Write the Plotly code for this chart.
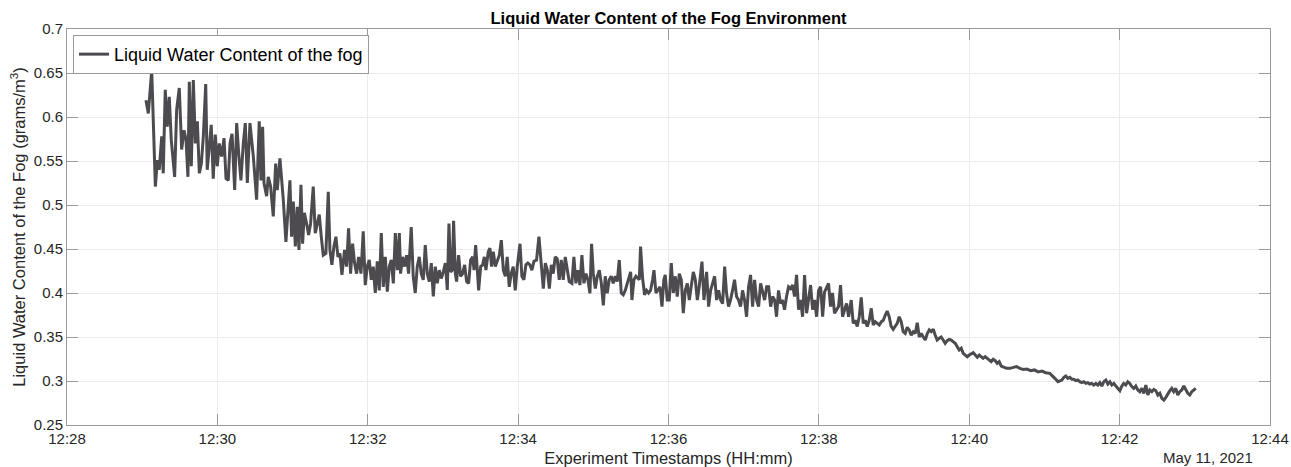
import pandas as pd
import plotly.graph_objects as go

# seconds after 12:28:00 on 11 May 2021
t_sec = [
    63.0, 64.9, 67.6, 68.9, 70.5, 72.1, 73.6, 75.6, 76.8, 78.4, 80.0, 81.6, 83.2, 85.9, 87.5, 89.6,
    91.5, 93.4, 95.0, 96.5, 97.6, 99.2, 100.8, 102.4, 104.0, 105.6, 107.2, 108.8, 110.7, 111.9, 113.5,
    115.1, 116.7, 118.3, 119.9, 121.5, 123.4, 125.3, 126.9, 128.7, 130.1, 131.7, 133.8, 135.4, 137.0,
    138.8, 140.7, 142.3, 143.9,
    146.0, 148.7, 151.3, 153.4, 154.8, 156.1, 157.2, 159.3, 160.6, 162.5, 164.6, 166.5, 167.8, 169.9,
    171.5, 172.6, 174.7, 176.3, 177.9, 179.2, 180.6, 182.2, 183.8, 185.1, 186.7, 188.0, 189.4, 191.2,
    192.8, 194.4, 196.5, 198.1, 199.7, 201.3, 202.9, 204.5, 206.6, 208.5, 209.8, 211.4, 213.0, 214.6,
    216.2, 217.8, 219.4, 221.5, 223.1, 224.7, 226.3, 227.9, 229.5, 231.1, 232.7, 234.6, 236.4, 238.0,
    239.6, 241.2, 242.8, 244.4, 246.0, 247.6, 249.2, 250.8, 252.4, 254.0, 255.6, 257.2, 258.8, 260.4,
    262.0, 263.6, 265.2, 266.2, 267.8, 269.4, 271.0, 272.6, 274.7, 276.3, 277.9, 279.5, 281.1, 282.7,
    284.3, 285.9, 287.5, 289.1, 290.7, 292.3, 293.9, 295.5, 297.1, 298.7, 300.3, 301.9, 303.5, 304.8,
    306.1, 307.5, 308.5, 309.9, 310.9, 312.5, 314.1, 315.7, 317.3, 318.9, 320.5, 322.1, 323.7, 324.8,
    326.1, 327.4, 328.5, 330.1, 331.7, 333.0, 334.3, 336.2, 337.5, 338.8, 340.2, 341.8, 343.4, 345.0,
    346.6, 348.2, 349.8, 351.3, 352.9, 354.5, 356.1, 357.7, 359.3, 361.5, 363.0, 364.6, 366.2, 367.8,
    369.4, 371.0, 372.6, 374.7, 376.6, 378.2, 380.1, 381.7, 383.3, 384.9, 386.5, 388.0, 389.6, 391.2,
    392.8, 394.4, 396.0, 397.6, 399.2, 400.8, 402.9, 404.5, 406.1, 407.7, 409.3, 410.9, 412.5, 414.1,
    415.7, 417.3, 418.6, 420.0, 421.6, 423.2, 424.8, 426.4, 428.0, 429.5, 431.1, 432.7, 434.3, 435.9,
    437.5, 439.1, 440.7,
    442.3, 443.9, 445.5, 447.1, 448.7, 449.8, 450.8, 452.4, 454.0, 455.6, 456.7, 457.7, 459.3, 460.9,
    462.5, 464.1, 465.7, 467.3, 468.4, 470.0, 471.6, 473.2, 474.8, 476.3, 477.4, 479.0, 480.6, 482.2,
    483.8, 485.4, 487.0, 488.6, 490.2, 491.8, 493.4, 495.0, 496.6, 498.2, 499.8, 501.4, 503.0, 504.5,
    506.7, 508.3, 510.4, 512.0, 513.6, 515.2, 516.8, 518.4, 520.0, 521.6, 523.2, 524.8, 526.3, 527.9,
    529.5, 531.1, 532.7, 534.3, 535.9, 537.5, 539.1, 540.7, 542.3, 543.9, 545.5, 547.1, 548.7, 550.3,
    551.9, 553.5, 555.1, 556.7, 558.3, 559.9, 561.5, 563.1, 564.7, 566.2, 567.8, 569.4, 571.0, 572.6,
    574.2, 575.8, 577.4, 579.0, 580.6, 582.2, 583.8, 585.4, 587.0, 588.6, 590.2, 591.8, 593.4, 595.0,
    596.6, 598.2, 599.8, 601.4, 603.0, 604.5, 606.1, 607.7, 609.3, 610.9, 612.5, 614.1, 615.7, 617.3,
    618.9, 620.5, 622.1, 623.7,
    625.8, 627.4, 629.0, 630.6, 632.2, 633.8, 635.4, 637.0, 638.6, 640.2, 641.8, 643.4, 645.0, 646.6,
    648.2, 649.8, 651.4, 653.0, 654.5, 656.1, 657.7, 659.3, 660.9, 662.5, 664.1, 665.7, 667.3, 668.9,
    670.5, 672.1, 673.7, 675.3, 676.9, 678.5, 680.1, 681.7, 683.3, 684.9, 686.5, 688.1, 689.7, 691.3,
    692.8, 694.4, 696.0, 697.6, 699.2, 700.8, 702.4, 704.0, 705.6, 707.2, 708.8, 710.4, 712.0, 713.6,
    715.2, 716.8, 718.4, 720.0, 721.6, 723.2, 724.8, 726.4, 728.0, 729.6, 731.1, 732.7, 734.3, 735.9,
    737.5, 739.1, 740.7, 742.3, 743.9, 745.5, 747.1, 749.8, 752.4, 755.1, 757.7, 760.4, 763.1,
    766.0, 769.0, 772.0, 775.0, 778.0, 781.0,
    784.3, 785.9, 787.5, 789.1, 790.7, 792.3, 793.9, 795.5, 797.1, 798.7, 800.3, 801.9, 803.5, 805.0,
    806.6, 808.2, 809.8, 811.4, 813.0, 814.6, 816.2, 817.8, 819.4, 821.0, 822.6, 824.2, 825.8, 827.4,
    829.0, 830.6, 832.2, 833.8, 835.4, 837.0, 838.6, 840.2, 841.8, 843.3, 844.9, 846.5, 848.1, 849.7,
    851.3, 852.9, 854.5, 856.1, 857.7, 859.3, 860.9, 862.5, 864.1, 865.7, 867.3, 868.9, 870.5, 872.1,
    873.7, 875.3, 876.9, 878.5, 880.1, 881.6, 883.2, 884.8, 886.4, 888.0, 889.6, 891.2, 892.8, 894.4,
    896.0, 897.6, 899.2, 900.8,
]

# liquid water content, grams per cubic metre
lwc = [
    0.619, 0.604, 0.653, 0.593, 0.521, 0.551, 0.540, 0.578, 0.536, 0.631, 0.589, 0.623, 0.574, 0.532, 0.608, 0.633,
    0.563, 0.585, 0.574, 0.532, 0.640, 0.544, 0.642, 0.570, 0.595, 0.536, 0.547, 0.578, 0.6375, 0.540, 0.566,
    0.591, 0.530, 0.580, 0.544, 0.570, 0.555, 0.576, 0.530, 0.528, 0.570, 0.581, 0.517, 0.593, 0.559,
    0.528, 0.570, 0.593, 0.525,
    0.593, 0.555, 0.506, 0.595, 0.528, 0.589, 0.525, 0.510, 0.532, 0.521, 0.487, 0.547, 0.517, 0.553,
    0.528, 0.506, 0.458, 0.494, 0.528, 0.464, 0.504, 0.453, 0.498, 0.449, 0.523, 0.456, 0.491, 0.479,
    0.466, 0.479, 0.521, 0.468, 0.479, 0.489, 0.464, 0.443, 0.445, 0.515, 0.449, 0.432, 0.453, 0.464,
    0.441, 0.445, 0.4205, 0.449, 0.430, 0.4735, 0.422, 0.456, 0.434, 0.422, 0.441, 0.422, 0.470, 0.409,
    0.430, 0.4375, 0.415, 0.430, 0.400, 0.436, 0.403, 0.468, 0.407, 0.441, 0.4015, 0.430, 0.4375, 0.411,
    0.468, 0.426, 0.468, 0.422, 0.441, 0.430, 0.443, 0.422, 0.475, 0.4185, 0.400, 0.430, 0.441, 0.422,
    0.415, 0.4545, 0.422, 0.413, 0.434, 0.396, 0.430, 0.411, 0.426, 0.4165, 0.424, 0.434, 0.4035, 0.479,
    0.424, 0.426, 0.482, 0.422, 0.413, 0.443, 0.419, 0.422, 0.432, 0.413, 0.411, 0.4375, 0.441, 0.426,
    0.4545, 0.430, 0.403, 0.430, 0.432, 0.441, 0.426, 0.447, 0.451, 0.430, 0.447, 0.430, 0.4375, 0.443,
    0.460, 0.426, 0.419, 0.441, 0.407, 0.422, 0.430, 0.403, 0.430, 0.456, 0.419, 0.415, 0.432, 0.434,
    0.432, 0.426, 0.436, 0.4375, 0.464, 0.4375, 0.405, 0.434, 0.426, 0.405, 0.432, 0.422, 0.441, 0.439,
    0.415, 0.4375, 0.415, 0.441, 0.426, 0.413, 0.411, 0.441, 0.411, 0.426, 0.409, 0.443, 0.411, 0.422,
    0.415, 0.3996, 0.456, 0.422, 0.405, 0.419, 0.426, 0.411, 0.386, 0.419, 0.3996, 0.415, 0.419, 0.411,
    0.419, 0.413, 0.4375,
    0.400, 0.398, 0.403, 0.411, 0.419, 0.424, 0.392, 0.415, 0.419, 0.417, 0.415, 0.4527, 0.417, 0.398,
    0.403, 0.400, 0.403, 0.415, 0.426, 0.400, 0.403, 0.407, 0.3845, 0.415, 0.4205, 0.392, 0.392, 0.434,
    0.400, 0.419, 0.396, 0.422, 0.415, 0.377, 0.403, 0.411, 0.392, 0.407, 0.424, 0.415, 0.392, 0.407,
    0.4356, 0.392, 0.424, 0.3845, 0.403, 0.411, 0.419, 0.392, 0.403, 0.392, 0.388, 0.430, 0.400, 0.3845,
    0.392, 0.403, 0.415, 0.396, 0.392, 0.3845, 0.403, 0.392, 0.373, 0.407, 0.4205, 0.3845, 0.415, 0.392,
    0.3845, 0.411, 0.403, 0.392, 0.407, 0.407, 0.3845, 0.396, 0.392, 0.373, 0.403, 0.388, 0.392, 0.381,
    0.396, 0.407, 0.405, 0.409, 0.396, 0.4205, 0.381, 0.392, 0.373, 0.4205, 0.377, 0.392, 0.409, 0.381,
    0.392, 0.373, 0.403, 0.407, 0.373, 0.401, 0.407, 0.411, 0.3845, 0.400, 0.377, 0.381, 0.3845, 0.409,
    0.373, 0.381, 0.388, 0.373,
    0.392, 0.3655, 0.369, 0.362, 0.373, 0.395, 0.3655, 0.369, 0.362, 0.369, 0.3826, 0.3636, 0.3674, 0.3655,
    0.3636, 0.3674, 0.369, 0.375, 0.3795, 0.373, 0.362, 0.3587, 0.362, 0.3655, 0.373, 0.3674, 0.356, 0.354,
    0.361, 0.358, 0.352, 0.356, 0.354, 0.3663, 0.350, 0.354, 0.350, 0.3466, 0.354, 0.358, 0.356, 0.3587,
    0.3523, 0.3466, 0.3485, 0.350, 0.3466, 0.3428, 0.3458, 0.3473, 0.3466, 0.3447, 0.3428, 0.339, 0.3352, 0.3371,
    0.3314, 0.3295, 0.3276, 0.3295, 0.3314, 0.3322, 0.3295, 0.3269, 0.3295, 0.3276, 0.3257, 0.3276, 0.3257, 0.3238,
    0.3219, 0.3246, 0.3231, 0.320, 0.3219, 0.317, 0.3163, 0.3144, 0.3144, 0.3155, 0.3163, 0.3144, 0.3132,
    0.3135, 0.3118, 0.3126, 0.3104, 0.3112, 0.3094,
    0.3087, 0.3068, 0.3049, 0.3019, 0.2992, 0.300, 0.3011, 0.3042, 0.3057, 0.303, 0.3042, 0.3019, 0.3019, 0.3004,
    0.3011, 0.2992, 0.2981, 0.2992, 0.2973, 0.2981, 0.2966, 0.2973, 0.2954, 0.2973, 0.2954, 0.2981, 0.2943, 0.2992,
    0.3011, 0.2966, 0.2992, 0.2954, 0.2973, 0.2943, 0.2916, 0.289, 0.2943, 0.2973, 0.2954, 0.2992, 0.2973, 0.2936,
    0.2916, 0.2943, 0.2898, 0.2879, 0.2916, 0.286, 0.2954, 0.2841, 0.2898, 0.2879, 0.2905, 0.289, 0.2841, 0.286,
    0.2803, 0.2784, 0.2814, 0.286, 0.289, 0.2916, 0.2879, 0.2916, 0.2841, 0.2879, 0.2898, 0.2943, 0.2898, 0.286,
    0.2841, 0.2879, 0.2898, 0.2916,
]

start = pd.Timestamp("2021-05-11 12:28:00")
times = start + pd.to_timedelta(t_sec, unit="s")

x_range = ["2021-05-11 12:28:00", "2021-05-11 12:44:00"]
y_range = [0.25, 0.7]
y_ticks = [0.25, 0.3, 0.35, 0.4, 0.45, 0.5, 0.55, 0.6, 0.65, 0.7]
y_tick_text = ["0.25", "0.3", "0.35", "0.4", "0.45", "0.5", "0.55", "0.6", "0.65", "0.7"]

FONT = "Liberation Sans, Arial, Helvetica, sans-serif"
AXC = "#9a9a9a"

fig = go.Figure()
fig.add_trace(go.Scatter(
    x=times, y=lwc, mode="lines",
    name="Liquid Water Content of the fog",
    line=dict(color="#4d4b4f", width=3),
))

fig.update_layout(
    width=1291, height=467,
    margin=dict(l=67, r=21, t=29, b=42, autoexpand=False),
    paper_bgcolor="white", plot_bgcolor="white",
    font=dict(family=FONT, size=15, color="#262626"),
    title=dict(
        text="<b>Liquid Water Content of the Fog Environment</b>",
        x=(67 + 1270) / 2 / 1291, xanchor="center",
        y=1 - 18 / 467, yanchor="middle", yref="container",
        font=dict(family=FONT, size=16.5, color="#000000"),
    ),
    showlegend=True,
    legend=dict(
        x=0.005, y=0.985, xanchor="left", yanchor="top",
        bgcolor="white", bordercolor="#9a9a9a", borderwidth=1,
        font=dict(family=FONT, size=18, color="#000000"),
        itemwidth=30, tracegroupgap=0,
    ),
)

fig.update_xaxes(
    type="date", range=x_range,
    dtick=120000, tickformat="%H:%M",
    showgrid=True, gridcolor="#ebebeb", gridwidth=1,
    showline=True, linecolor=AXC, linewidth=1, mirror="ticks",
    ticks="inside", ticklen=11, tickcolor=AXC, tickwidth=1,
    tickfont=dict(family=FONT, size=15, color="#262626"),
    ticklabeloverflow="allow",
    zeroline=False, automargin=False,
    title=dict(text="Experiment Timestamps (HH:mm)", standoff=6,
               font=dict(family=FONT, size=16.5, color="#262626")),
)
fig.update_yaxes(
    range=y_range, tickvals=y_ticks, ticktext=y_tick_text,
    showgrid=True, gridcolor="#ebebeb", gridwidth=1,
    showline=True, linecolor=AXC, linewidth=1, mirror="ticks",
    ticks="inside", ticklen=11, tickcolor=AXC, tickwidth=1,
    tickfont=dict(family=FONT, size=15, color="#262626"),
    zeroline=False, automargin=False,
    title=dict(text="Liquid Water Content of the Fog (grams/m<sup>3</sup>)", standoff=4,
               font=dict(family=FONT, size=16.5, color="#262626")),
)

fig.add_annotation(
    text="May 11, 2021", xref="paper", yref="paper",
    x=(1255 - 67) / 1203, y=-(458 - 425) / 396,
    xanchor="right", yanchor="middle", showarrow=False,
    font=dict(family=FONT, size=15, color="#262626"),
)

fig.write_html(
    "out.html",
    config={"displayModeBar": False},
    post_script="document.body.style.margin='0';document.body.style.overflow='hidden';",
)
